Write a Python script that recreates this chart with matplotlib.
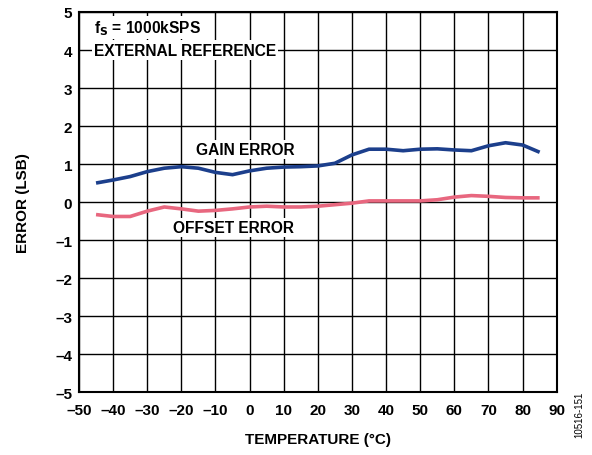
import matplotlib.pyplot as plt

plt.rcParams['font.family'] = ['Liberation Sans', 'DejaVu Sans']
plt.rcParams['font.weight'] = 'bold'

# temperature (deg C)
temp = [-45, -40, -35, -30, -25, -20, -15, -10, -5, 0, 5, 10, 15, 20, 25,
        30, 35, 40, 45, 50, 55, 60, 65, 70, 75, 80, 85]
gain_err = [0.50, 0.58, 0.67, 0.80, 0.89, 0.93, 0.89, 0.78, 0.72, 0.82, 0.89,
            0.92, 0.93, 0.95, 1.02, 1.24, 1.39, 1.39, 1.35, 1.39, 1.40, 1.37,
            1.35, 1.48, 1.56, 1.50, 1.31]
offset_err = [-0.33, -0.38, -0.38, -0.24, -0.13, -0.18, -0.24, -0.22, -0.18,
              -0.13, -0.11, -0.13, -0.13, -0.11, -0.07, -0.03, 0.03, 0.03,
              0.03, 0.03, 0.06, 0.13, 0.17, 0.15, 0.12, 0.11, 0.11]

xticks = list(range(-50, 91, 10))
yticks = list(range(-5, 6, 1))

fig = plt.figure(figsize=(5.92, 4.56), dpi=100)
ax = fig.add_axes([0.1334, 0.138, 0.807, 0.8335])

ax.plot(temp, gain_err, color='#1c3f8c', lw=2.6, zorder=3,
        solid_joinstyle='round', solid_capstyle='butt')
ax.plot(temp, offset_err, color='#e8677f', lw=2.6, zorder=3,
        solid_joinstyle='round', solid_capstyle='butt')

ax.set_xlim(-50, 90)
ax.set_ylim(-5, 5)
ax.set_xticks(xticks)
ax.set_yticks(yticks)
ax.set_xticklabels([str(t).replace('-', '\u2013') for t in xticks])
ax.set_yticklabels([str(t).replace('-', '\u2013') for t in yticks])
ax.tick_params(axis='x', length=0, labelsize=11, pad=8)
ax.tick_params(axis='y', length=0, labelsize=11, pad=5)
ax.grid(True, color='black', lw=1)
for s in ax.spines.values():
    s.set_linewidth(1.5)

ax.set_xlabel('TEMPERATURE (°C)', fontsize=11, fontweight='bold', labelpad=11)
ax.set_ylabel('ERROR (LSB)', fontsize=11, fontweight='bold', labelpad=18)

box = dict(facecolor='white', edgecolor='none', pad=1.5)
ax.text(-45.5, 4.6, 'f$_\\mathbf{S}$ = 1000kSPS', fontsize=11.2, va='center',
        ha='left', bbox=box, zorder=4)
ax.text(-45.5, 4.0, 'EXTERNAL REFERENCE', fontsize=11.2, va='center',
        ha='left', bbox=box, zorder=4)
ax.text(-1.2, 1.37, 'GAIN ERROR', fontsize=11.2, va='center', ha='center',
        bbox=box, zorder=4)
ax.text(-4.6, -0.68, 'OFFSET ERROR', fontsize=11.2, va='center', ha='center',
        bbox=box, zorder=4)

fig.text(0.978, 0.09, '10516-151', rotation=90, fontsize=7, fontweight='normal',
         ha='center', va='center')

fig.savefig('out.png', dpi=100)
